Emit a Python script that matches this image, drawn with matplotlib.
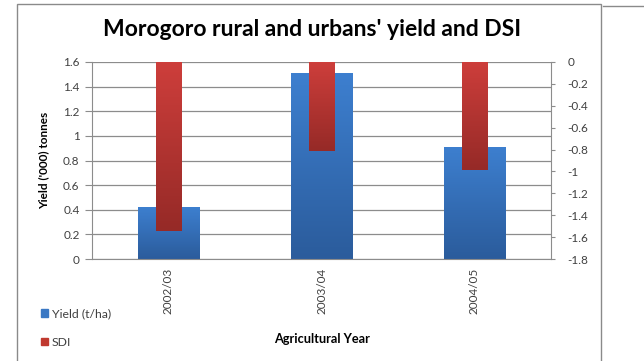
import numpy as np
import matplotlib.pyplot as plt
from matplotlib.patches import Rectangle
from matplotlib.lines import Line2D

# chart data
years = ["2002/03", "2003/04", "2004/05"]
yield_t = [0.42, 1.51, 0.91]
sdi = [-1.54, -0.81, -0.99]

left_ticks = [0, 0.2, 0.4, 0.6, 0.8, 1, 1.2, 1.4, 1.6]
right_ticks = [0, -0.2, -0.4, -0.6, -0.8, -1, -1.2, -1.4, -1.6, -1.8]


def fmt(v):
    s = "%g" % v
    return s


def shade(ax, patches, top, bottom):
    # vertical gradient clipped to each bar
    cmap = plt.matplotlib.colors.LinearSegmentedColormap.from_list("g", [top, bottom])
    grad = np.linspace(0, 1, 64).reshape(-1, 1)
    for p in patches:
        x0, y0 = p.get_x(), p.get_y()
        w, h = p.get_width(), p.get_height()
        ylo, yhi = min(y0, y0 + h), max(y0, y0 + h)
        im = ax.imshow(grad, cmap=cmap, aspect="auto", origin="upper",
                       extent=(x0, x0 + w, ylo, yhi), zorder=p.get_zorder() + 0.1)
        im.set_clip_path(p)


def main():
    plt.rcParams["font.family"] = ["Lato", "DejaVu Sans"]
    fig = plt.figure(figsize=(6.44, 3.61), dpi=100)

    # outer chart frame
    W, H = 644.0, 361.0
    fig.add_artist(Rectangle((16.5 / W, -0.1), (601 - 16.5) / W, 1.1 - 3.5 / H,
                             transform=fig.transFigure, fill=False,
                             edgecolor="#8a8a8a", lw=1.0))
    fig.add_artist(Line2D([603 / W, 1.0], [1 - 5.5 / H, 1 - 5.5 / H],
                          transform=fig.transFigure, color="#8a8a8a", lw=1.0))

    ax = fig.add_axes([92 / W, 1 - 259 / H, (551 - 92) / W, (259 - 62) / H])
    x = np.arange(len(years))
    grid_c = "#8c8c8c"
    tick_c = "#404040"
    for t in left_ticks:
        ax.axhline(t, color=grid_c, lw=0.9, zorder=0)
    b1 = ax.bar(x, yield_t, width=0.40, color="#3a78c4", zorder=2, label="Yield (t/ha)")
    shade(ax, b1, "#3d7fcf", "#2b5c9c")
    ax.set_xlim(-0.5, 2.5)
    ax.set_ylim(0, 1.6)
    ax.set_yticks(left_ticks)
    ax.set_yticklabels([fmt(t) for t in left_ticks])
    ax.set_xticks(x)
    ax.set_xticklabels(years, rotation=90)
    ax.tick_params(axis="y", length=5, color=grid_c, pad=4, labelsize=8.5, labelcolor=tick_c)
    ax.tick_params(axis="x", length=0, pad=6, labelsize=8.5, labelcolor=tick_c)
    for s in ["top", "right"]:
        ax.spines[s].set_visible(False)
    ax.spines["left"].set_color(grid_c)
    ax.spines["bottom"].set_color(grid_c)

    ax2 = ax.twinx()
    b2 = ax2.bar(x, sdi, width=0.165, color="#c0392f", zorder=3, label="SDI")
    shade(ax2, b2, "#cd3e3b", "#962a27")
    ax2.set_ylim(-1.8, 0)
    ax2.set_yticks(right_ticks)
    ax2.set_yticklabels([fmt(t) for t in right_ticks])
    ax2.tick_params(axis="y", length=3, color=grid_c, pad=9, labelsize=8.5, labelcolor=tick_c)
    for s in ["top", "left", "bottom"]:
        ax2.spines[s].set_visible(False)
    ax2.spines["right"].set_color(grid_c)

    fig.text(312 / W, 1 - 30 / H, "Morogoro rural and urbans' yield and DSI",
             ha="center", va="center", fontsize=16.5, fontweight="bold")
    fig.text(44 / W, 1 - 160 / H, "Yield ('000) tonnes", rotation=90,
             ha="center", va="center", fontsize=8.5, fontweight="bold")
    fig.text(322 / W, 1 - 339 / H, "Agricultural Year", ha="center", va="center",
             fontsize=9.2, fontweight="bold")

    handles = [Rectangle((0, 0), 1, 1, color="#3a78c4"), Rectangle((0, 0), 1, 1, color="#c0392f")]
    fig.legend(handles, ["Yield (t/ha)", "SDI"], loc="upper left",
               bbox_to_anchor=(30 / W, 1 - 297 / H), frameon=False, fontsize=8.8,
               handlelength=0.6, handleheight=0.6, handletextpad=0.3,
               labelspacing=1.45, labelcolor=tick_c)

    fig.savefig("out.png", dpi=100)


if __name__ == "__main__":
    main()
